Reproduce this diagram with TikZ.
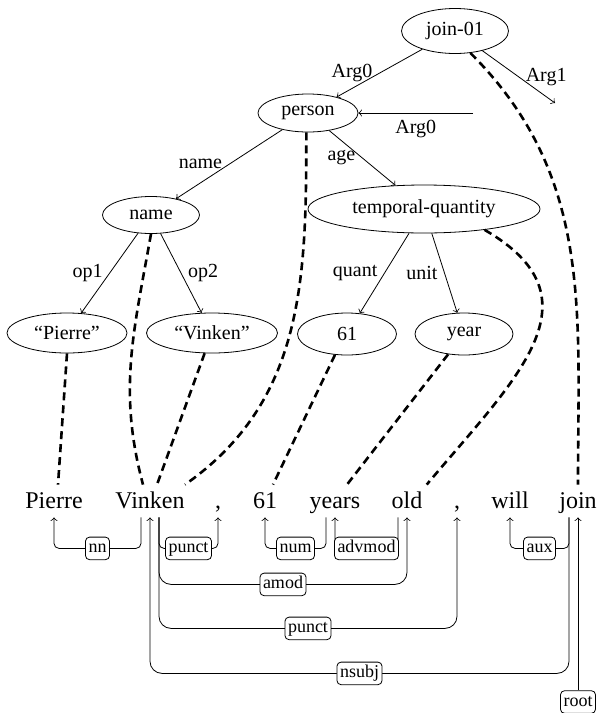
\documentclass[tikz,border=0pt]{standalone}
\usepackage{fontspec}
\setmainfont{Liberation Serif}
\usetikzlibrary{shapes.geometric}

\begin{document}
\begin{tikzpicture}[x=0.5pt,y=-0.5pt,
  concept/.style={draw,ellipse,inner sep=0pt},
  word/.style={font=\large,anchor=base,inner xsep=2pt,inner ysep=2.5pt,text height=9pt,text depth=2pt},
  alignment/.style={line width=1.3pt,dash pattern=on 4pt off 2.5pt},
  dep/.style={->,rounded corners=#1},
  dep/.default=2.5pt,
  deplabel/.style={draw,rounded corners=2pt,fill=white,font=\small,inner sep=1.5pt,text height=1.4ex,text depth=0.4ex}]
  \useasboundingbox (0,0) rectangle (598,713);

  \node[concept,minimum width=53.5pt,minimum height=22.5pt] (join01) at (455,31) {join-01};
  \node[concept,minimum width=50pt,minimum height=19pt] (person) at (308,113) {person};
  \node[concept,minimum width=48.5pt,minimum height=18.5pt] (name) at (151,215) {name};
  \node[concept,minimum width=116pt,minimum height=24pt] (tempqty) at (424,209) {temporal-quantity};
  \node[concept,minimum width=60pt,minimum height=20pt] (cpierre) at (67,333) {“Pierre”};
  \node[concept,minimum width=65.5pt,minimum height=20pt] (cvinken) at (212,333) {“Vinken”};
  \node[concept,minimum width=49.5pt,minimum height=21pt] (c61) at (347,334) {61};
  \node[concept,minimum width=49pt,minimum height=21pt] (cyear) at (464,334) {year};
  \coordinate (arg1end) at (555,103);
  \coordinate (arg0start) at (473,113);

  \draw[->] (join01) -- node[left] (larg0) {Arg0} (person);
  \draw[->] (join01) -- node[right] (larg1) {Arg1} (arg1end);
  \draw[->] (arg0start) -- node[below] (larg0b) {Arg0} (person);
  \draw[->] (person) -- node[left] (lname) {name} (name);
  \draw[->] (person) -- node[left] (lage) {age} (tempqty);
  \draw[->] (name) -- node[left] (lop1) {op1} (cpierre);
  \draw[->] (name) -- node[right] (lop2) {op2} (cvinken);
  \draw[->] (tempqty) -- node[left] (lquant) {quant} (c61);
  \draw[->] (tempqty) -- node[left] (lunit) {unit} (cyear);

  \node[word] (pierre) at (54,508) {Pierre};
  \node[word] (vinken) at (150,508) {Vinken};
  \node[word] (comma1) at (218,508) {,};
  \node[word] (sixtyone) at (265,508) {61};
  \node[word] (years) at (335,508) {years};
  \node[word] (old) at (407,508) {old};
  \node[word] (comma2) at (457,508) {,};
  \node[word] (will) at (510,508) {will};
  \node[word] (join) at (578,508) {join};

  \draw[alignment] (join01.-55) to[out=-45,in=90] (join.north);
  \draw[alignment] (person.265) to[out=-90,in=35] ([xshift=-2pt]vinken.north east);
  \draw[alignment] (name.south) to[out=-100,in=105] ([xshift=-3.5pt]vinken.north);
  \draw[alignment] (tempqty.-19) to[out=-30,in=50,looseness=1.35] (old.north east);
  \draw[alignment] (cpierre.south) -- ([xshift=2pt]pierre.north);
  \draw[alignment] (cvinken.250) -- ([xshift=3.5pt]vinken.north);
  \draw[alignment] (c61.-120) -- ([xshift=4pt]sixtyone.north);
  \draw[alignment] (cyear.-128) -- ([xshift=6pt]years.north);

  \draw[dep] ([xshift=-4.5pt]vinken.south) -- ++(0,31) -| node[deplabel,pos=0.25] (dnn) {nn} (pierre.south);
  \draw[dep] ([xshift=4.5pt]vinken.south) -- ++(0,31) -| node[deplabel,pos=0.25] (dpunct1) {punct} (comma1.south);
  \draw[dep] ([xshift=-4.5pt]years.south) -- ++(0,31) -| node[deplabel,pos=0.25] (dnum) {num} (sixtyone.south);
  \draw[dep] ([xshift=-4.5pt]old.south) -- ++(0,31) -| node[deplabel,pos=0.25] (dadvmod) {advmod} (years.south);
  \draw[dep] ([xshift=-4.5pt]join.south) -- ++(0,31) -| node[deplabel,pos=0.25] (daux) {aux} (will.south);
  \draw[dep=6pt] ([xshift=4.5pt]vinken.south) -- ++(0,67) -| node[deplabel,pos=0.25] (damod) {amod} (old.south);
  \draw[dep=6pt] ([xshift=4.5pt]vinken.south) -- ++(0,111) -| node[deplabel,pos=0.25] (dpunct2) {punct} (comma2.south);
  \draw[dep=6pt] ([xshift=-4.5pt]join.south) -- ++(0,156) -| node[deplabel,pos=0.25] (dnsubj) {nsubj} (vinken.south);
  \node[deplabel] (droot) at (578,702) {root};
  \draw[dep] (droot) -- (join.south);
\end{tikzpicture}
\end{document}
